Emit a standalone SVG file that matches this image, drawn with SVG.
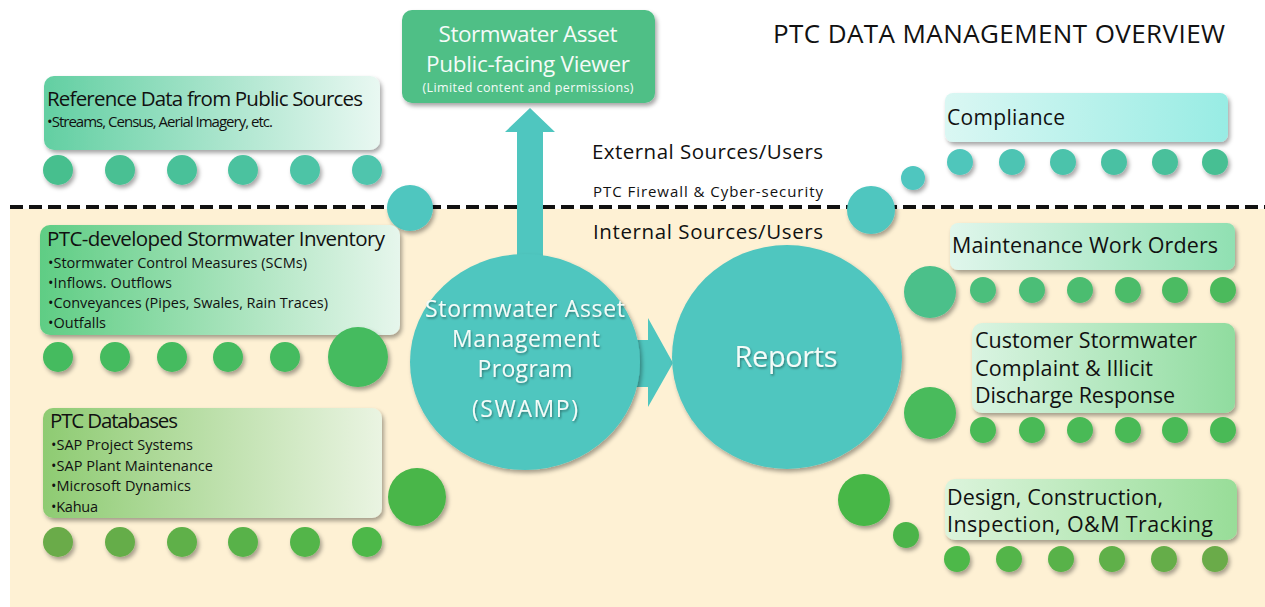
<svg xmlns="http://www.w3.org/2000/svg" width="1265" height="607" viewBox="0 0 1265 607">
<defs>
<filter id="sh" x="-20%" y="-20%" width="140%" height="150%"><feDropShadow dx="2" dy="3" stdDeviation="2" flood-color="#000" flood-opacity="0.35"/></filter>
<filter id="tsh" x="-10%" y="-20%" width="120%" height="150%"><feDropShadow dx="1" dy="1.5" stdDeviation="1" flood-color="#000" flood-opacity="0.4"/></filter>
<linearGradient id="gRef" x1="0" x2="1"><stop offset="0" stop-color="#62cfa2"/><stop offset="1" stop-color="#e9f8f2"/></linearGradient>
<linearGradient id="gInv" x1="0" x2="1"><stop offset="0" stop-color="#5fcd84"/><stop offset="1" stop-color="#e6f6ec"/></linearGradient>
<linearGradient id="gDb" x1="0" x2="1"><stop offset="0" stop-color="#8ecb72"/><stop offset="1" stop-color="#eaf4e2"/></linearGradient>
<linearGradient id="gCmp" x1="0" x2="1"><stop offset="0" stop-color="#daf7f3"/><stop offset="1" stop-color="#98ece4"/></linearGradient>
<linearGradient id="gMwo" x1="0" x2="1"><stop offset="0" stop-color="#e0f6ec"/><stop offset="1" stop-color="#90e0b2"/></linearGradient>
<linearGradient id="gCus" x1="0" x2="1"><stop offset="0" stop-color="#daf4e2"/><stop offset="1" stop-color="#90dc9f"/></linearGradient>
<linearGradient id="gDes" x1="0" x2="1"><stop offset="0" stop-color="#dcf4dc"/><stop offset="1" stop-color="#98dd98"/></linearGradient>
</defs>
<style>
text{font-family:"Open Sans","Noto Sans","Liberation Sans",sans-serif;}
.dk{fill:#111;}
.wt{fill:#f4fbf8;}
.box{filter:url(#sh);}
.dot{filter:url(#sh);}
.teal{fill:#4fc6bf;}
</style>
<rect x="0" y="0" width="1265" height="607" fill="#ffffff"/>
<rect x="10" y="209" width="1255" height="398" fill="#fef1d4"/>
<line x1="10" y1="207" x2="1265" y2="207" stroke="#111" stroke-width="4" stroke-dasharray="13 6"/>

<g id="title"><text class="dk" x="773" y="43" font-size="26" textLength="452">PTC DATA MANAGEMENT OVERVIEW</text></g>

<g id="zone-labels">
<text class="dk" x="592" y="159" font-size="20.5" textLength="231">External Sources/Users</text>
<text class="dk" x="593" y="197" font-size="15" textLength="230">PTC Firewall &amp; Cyber-security</text>
<text class="dk" x="593" y="239" font-size="20.5" textLength="230">Internal Sources/Users</text>
</g>

<g id="connectors">
<polygon class="teal" points="517,280 517,132 505,132 530,108 555,132 543,132 543,280"/>
<polygon class="teal" points="600,340 648,340 648,318 673,363 648,407 648,387 600,387"/>
</g>

<g id="ref-data">
<rect class="box" x="44" y="76" width="336" height="74" rx="10" fill="url(#gRef)"/>
<text class="dk" x="47" y="106" font-size="20.5" textLength="316">Reference Data from Public Sources</text>
<text class="dk" x="47" y="127" font-size="15" textLength="226">•Streams, Census, Aerial Imagery, etc.</text>
<g class="dot">
<circle cx="58" cy="170" r="15" fill="#47bf8e"/><circle cx="120" cy="170" r="15" fill="#48c093"/><circle cx="182" cy="170" r="15" fill="#4ac199"/><circle cx="243" cy="170" r="15" fill="#4bc29f"/><circle cx="305" cy="170" r="15" fill="#4dc4a6"/><circle cx="367" cy="170" r="15" fill="#4fc5ad"/>
</g>
</g>
<circle class="dot teal" cx="410" cy="208" r="23"/>

<g id="inventory">
<rect class="box" x="40" y="225" width="360" height="110" rx="10" fill="url(#gInv)"/>
<text class="dk" x="47" y="246" font-size="20.5" textLength="338">PTC-developed Stormwater  Inventory</text>
<text class="dk" x="48" y="268" font-size="14.5" textLength="259">•Stormwater Control Measures (SCMs)</text>
<text class="dk" x="48" y="288" font-size="14.5" textLength="124">•Inflows. Outflows</text>
<text class="dk" x="48" y="308" font-size="14.5" textLength="280">•Conveyances (Pipes, Swales, Rain Traces)</text>
<text class="dk" x="48" y="328" font-size="14.5" textLength="58">•Outfalls</text>
<g class="dot" fill="#45bb5e">
<circle cx="58" cy="357" r="15"/><circle cx="115" cy="357" r="15"/><circle cx="172" cy="357" r="15"/><circle cx="228" cy="357" r="15"/><circle cx="285" cy="357" r="15"/><circle cx="358" cy="357" r="30"/>
</g>
</g>

<g id="databases">
<rect class="box" x="43" y="408" width="339" height="110" rx="10" fill="url(#gDb)"/>
<text class="dk" x="50" y="428" font-size="20.5" textLength="128">PTC Databases</text>
<text class="dk" x="51" y="450" font-size="14.5" textLength="142">•SAP Project Systems</text>
<text class="dk" x="51" y="470.5" font-size="14.5" textLength="162">•SAP Plant Maintenance</text>
<text class="dk" x="51" y="491" font-size="14.5" textLength="140">•Microsoft Dynamics</text>
<text class="dk" x="51" y="511.5" font-size="14.5" textLength="47">•Kahua</text>
<g class="dot">
<circle cx="58" cy="542" r="15" fill="#6aab48"/><circle cx="120" cy="542" r="15" fill="#65ad48"/><circle cx="182" cy="542" r="15" fill="#5fb048"/><circle cx="243" cy="542" r="15" fill="#59b249"/><circle cx="305" cy="542" r="15" fill="#53b549"/><circle cx="367" cy="542" r="15" fill="#4db84a"/>
<circle cx="417" cy="497" r="29" fill="#48b648"/>
</g>
</g>

<g id="viewer">
<rect class="box" x="402" y="10" width="253" height="93" rx="10" fill="#4fbf86"/>
<text class="wt" x="528" y="42" font-size="22.5" text-anchor="middle" textLength="179">Stormwater Asset</text>
<text class="wt" x="528" y="72" font-size="22.5" text-anchor="middle" textLength="204">Public-facing Viewer</text>
<text class="wt" x="528" y="92" font-size="12.5" text-anchor="middle" textLength="211">(Limited content and permissions)</text>
</g>

<g id="swamp">
<ellipse class="dot teal" cx="525" cy="362" rx="115" ry="108"/>
<g filter="url(#tsh)">
<text class="wt" x="525" y="317" font-size="23" text-anchor="middle" textLength="200">Stormwater Asset</text>
<text class="wt" x="526" y="347" font-size="23" text-anchor="middle" textLength="148">Management</text>
<text class="wt" x="525" y="377" font-size="23" text-anchor="middle" textLength="95">Program</text>
<text class="wt" x="525" y="417" font-size="23" text-anchor="middle" textLength="106">(SWAMP)</text>
</g>
</g>

<g id="reports">
<ellipse class="dot teal" cx="787" cy="357" rx="115" ry="112"/>
<text class="wt" filter="url(#tsh)" x="786" y="367" font-size="29" text-anchor="middle" textLength="103">Reports</text>
</g>

<g id="compliance">
<rect class="box" x="945" y="93" width="283" height="49" rx="8" fill="url(#gCmp)"/>
<text class="dk" x="947" y="125" font-size="21" textLength="118">Compliance</text>
<g class="dot">
<circle cx="960" cy="162" r="13" fill="#4fc6bb"/><circle cx="1012" cy="162" r="13" fill="#4dc4b3"/><circle cx="1063" cy="162" r="13" fill="#4bc3ab"/><circle cx="1114" cy="162" r="13" fill="#4ac1a3"/><circle cx="1165" cy="162" r="13" fill="#48c09b"/><circle cx="1215" cy="162" r="13" fill="#46bf93"/>
</g>
<circle class="dot teal" cx="913" cy="178" r="12"/>
<circle class="dot teal" cx="871" cy="210" r="24"/>
</g>

<g id="maintenance">
<rect class="box" x="950" y="223" width="285" height="47" rx="8" fill="url(#gMwo)"/>
<text class="dk" x="952" y="253" font-size="21.5" textLength="266">Maintenance Work Orders</text>
<g class="dot">
<circle cx="983" cy="290" r="13" fill="#4bbf7c"/><circle cx="1032" cy="290" r="13" fill="#4bbe77"/><circle cx="1080" cy="290" r="13" fill="#4bbd70"/><circle cx="1128" cy="290" r="13" fill="#4bbc69"/><circle cx="1175" cy="290" r="13" fill="#4bbb62"/><circle cx="1223" cy="290" r="13" fill="#4bba5c"/>
<circle cx="930" cy="292" r="26" fill="#4cc08a"/>
</g>
</g>

<g id="customer">
<rect class="box" x="972" y="323" width="263" height="90" rx="10" fill="url(#gCus)"/>
<text class="dk" x="975" y="348" font-size="21.5" textLength="222">Customer Stormwater</text>
<text class="dk" x="975" y="376" font-size="21.5" textLength="178">Complaint &amp; Illicit</text>
<text class="dk" x="975" y="403" font-size="21.5" textLength="200">Discharge Response</text>
<g class="dot" fill="#48ba56">
<circle cx="983" cy="430" r="13"/><circle cx="1032" cy="430" r="13"/><circle cx="1080" cy="430" r="13"/><circle cx="1128" cy="430" r="13"/><circle cx="1175" cy="430" r="13"/><circle cx="1223" cy="430" r="13"/>
<circle cx="930" cy="413" r="26" fill="#48bb5c"/>
</g>
</g>

<g id="design">
<rect class="box" x="945" y="479" width="292" height="61" rx="10" fill="url(#gDes)"/>
<text class="dk" x="947" y="505" font-size="21.5" textLength="216">Design, Construction,</text>
<text class="dk" x="947" y="532" font-size="21.5" textLength="266">Inspection,  O&amp;M Tracking</text>
<g class="dot">
<circle cx="957" cy="559" r="13" fill="#4db84a"/><circle cx="1009" cy="559" r="13" fill="#53b549"/><circle cx="1061" cy="559" r="13" fill="#59b249"/><circle cx="1112" cy="559" r="13" fill="#5fb048"/><circle cx="1164" cy="559" r="13" fill="#65ad48"/><circle cx="1215" cy="559" r="13" fill="#6aab48"/>
<circle cx="864" cy="500" r="26" fill="#46b746"/>
<circle cx="906" cy="535" r="13" fill="#4cb44a"/>
</g>
</g>
</svg>
